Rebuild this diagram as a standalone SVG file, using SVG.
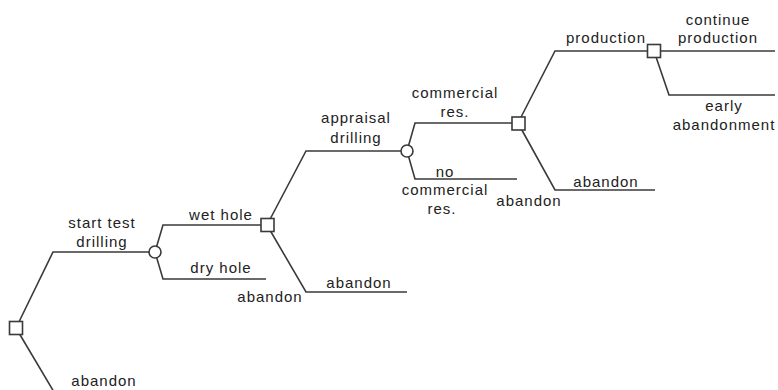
<svg xmlns="http://www.w3.org/2000/svg" width="778" height="390" viewBox="0 0 778 390">
<style>
.e{fill:none;stroke:#3a3a3a;stroke-width:1.6;stroke-linejoin:miter}
.d{fill:#fff;stroke:#3a3a3a;stroke-width:1.6}
.c{fill:#fff;stroke:#3a3a3a;stroke-width:1.6}
text{font-family:"Liberation Sans",Arial,sans-serif;font-size:15px;letter-spacing:1px;fill:#222;text-anchor:middle}
</style>
<rect width="778" height="390" fill="#fff"/>
<g id="connectors">
<polyline class="e" points="16,328 53,252 155,252"/>
<polyline class="e" points="16,328 54,392"/>
<polyline class="e" points="155,252 163,225 267,225"/>
<polyline class="e" points="155,252 163,279 266,279"/>
<polyline class="e" points="267,225 306,151 407,151"/>
<polyline class="e" points="267,225 306,292 407,292"/>
<polyline class="e" points="407,151 415,123 518,123"/>
<polyline class="e" points="407,151 415,179 517,179"/>
<polyline class="e" points="518,123 555,51 654,51"/>
<polyline class="e" points="518,123 555,190 655,190"/>
<polyline class="e" points="654,51 775,51"/>
<polyline class="e" points="654,51 669,95 775,95"/>
</g>
<g id="labels">
<text x="102" y="228">start test</text>
<text x="102" y="247">drilling</text>
<text x="104" y="386">abandon</text>
<text x="221" y="220">wet hole</text>
<text x="221" y="273">dry hole</text>
<text x="356" y="123">appraisal</text>
<text x="356" y="143">drilling</text>
<text x="359" y="288">abandon</text>
<text x="270" y="302">abandon</text>
<text x="455" y="98">commercial</text>
<text x="455" y="117">res.</text>
<text x="445" y="177">no</text>
<text x="445" y="195">commercial</text>
<text x="442" y="214">res.</text>
<text x="606" y="187">abandon</text>
<text x="529" y="206">abandon</text>
<text x="606" y="43">production</text>
<text x="718" y="25">continue</text>
<text x="718" y="43">production</text>
<text x="724" y="111">early</text>
<text x="724" y="130">abandonment</text>
</g>
<g id="D1"><rect class="d" x="9.5" y="321.5" width="13" height="13"/></g>
<g id="C1"><circle class="c" cx="155" cy="252" r="6"/></g>
<g id="D2"><rect class="d" x="261" y="218.5" width="13" height="13"/></g>
<g id="C2"><circle class="c" cx="407" cy="151" r="6"/></g>
<g id="D3"><rect class="d" x="512" y="117" width="13" height="13"/></g>
<g id="D4"><rect class="d" x="647.5" y="44.5" width="13" height="13"/></g>
</svg>
